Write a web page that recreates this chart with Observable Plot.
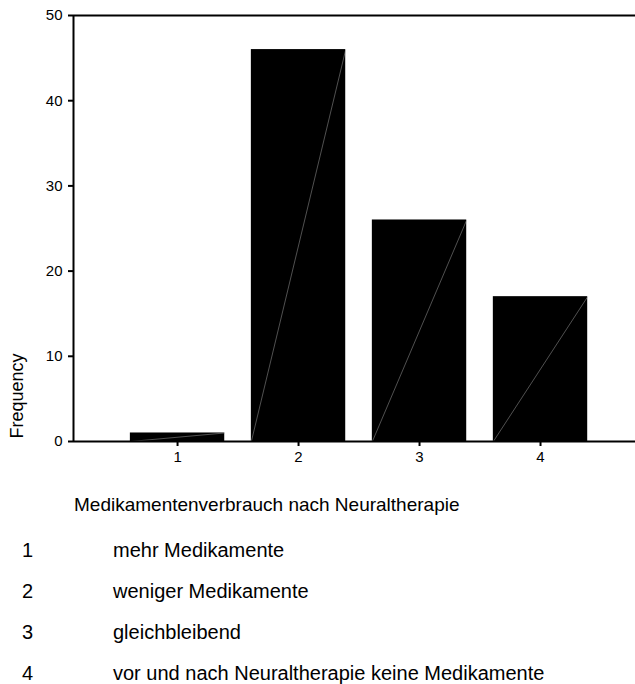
<!DOCTYPE html>
<html><head><meta charset="utf-8">
<script src="https://cdn.jsdelivr.net/npm/d3@7"></script>
<script src="https://cdn.jsdelivr.net/npm/@observablehq/plot@0.6"></script>
<style>
body{margin:0;background:#fff;font-family:"Liberation Sans",Arial,sans-serif;}
#wrap{position:relative;width:635px;height:684px;overflow:hidden;background:#fff;}
#wrap svg{position:absolute;left:0;top:0;}
.t{position:absolute;white-space:nowrap;color:#000;}
</style></head><body><div id="wrap"></div>
<script>
const categories = [1, 2, 3, 4];
const frequencies = [1, 46, 26, 17];
const yTicks = [0, 10, 20, 30, 40, 50];
const axisTitle = "Medikamentenverbrauch nach Neuraltherapie";
const yLabel = "Frequency";
const legendCodes = ["1", "2", "3", "4"];
const legendLabels = ["mehr Medikamente", "weniger Medikamente", "gleichbleibend", "vor und nach Neuraltherapie keine Medikamente"];

const data = categories.map((c, i) => ({cat: c, freq: frequencies[i]}));
const hw = 0.39;
const xMin = 0.14, xMax = 4.785;

const chart = Plot.plot({
  width: 635, height: 470,
  marginTop: 15, marginBottom: 29, marginLeft: 73, marginRight: 0,
  style: {fontFamily: "'Liberation Sans', Arial, sans-serif", fontSize: "15px", background: "#fff", overflow: "visible"},
  x: {domain: [xMin, xMax]},
  y: {domain: [0, 50]},
  marks: [
    Plot.rect(data, {x1: d => d.cat - hw, x2: d => d.cat + hw, y1: 0, y2: "freq", fill: "#000"}),
    Plot.link(data, {x1: d => d.cat - hw, y1: 0, x2: d => d.cat + hw, y2: "freq", stroke: "#a0a0a0", strokeWidth: 0.5}),
    Plot.ruleY([0, 50], {stroke: "#000", strokeWidth: 2}),
    Plot.ruleX([xMin], {stroke: "#000", strokeWidth: 2}),
    Plot.axisY({ticks: yTicks, tickFormat: d => String(d), tickSize: 5, tickPadding: 6, strokeWidth: 2, label: null, fontSize: 15}),
    Plot.axisX({ticks: categories, tickFormat: d => String(d), tickSize: 5, tickPadding: 5, strokeWidth: 2, label: null, fontSize: 15}),
    Plot.text([yLabel], {frameAnchor: "bottom-left", text: d => d, rotate: -90, textAnchor: "start", lineAnchor: "middle", dx: -56, dy: -3, fontSize: 18})
  ]
});
const wrap = document.getElementById("wrap");
wrap.appendChild(chart);

function addText(txt, left, top, size) {
  const el = document.createElement("div");
  el.className = "t";
  el.textContent = txt;
  el.style.left = left + "px";
  el.style.top = top + "px";
  el.style.fontSize = size + "px";
  el.style.lineHeight = size + "px";
  wrap.appendChild(el);
}
addText(axisTitle, 74, 495, 19);
const rowTops = [540, 581, 622, 663];
legendCodes.forEach((c, i) => {
  addText(c, 22, rowTops[i], 20);
  addText(legendLabels[i], 113, rowTops[i], 20);
});
</script></body></html>
